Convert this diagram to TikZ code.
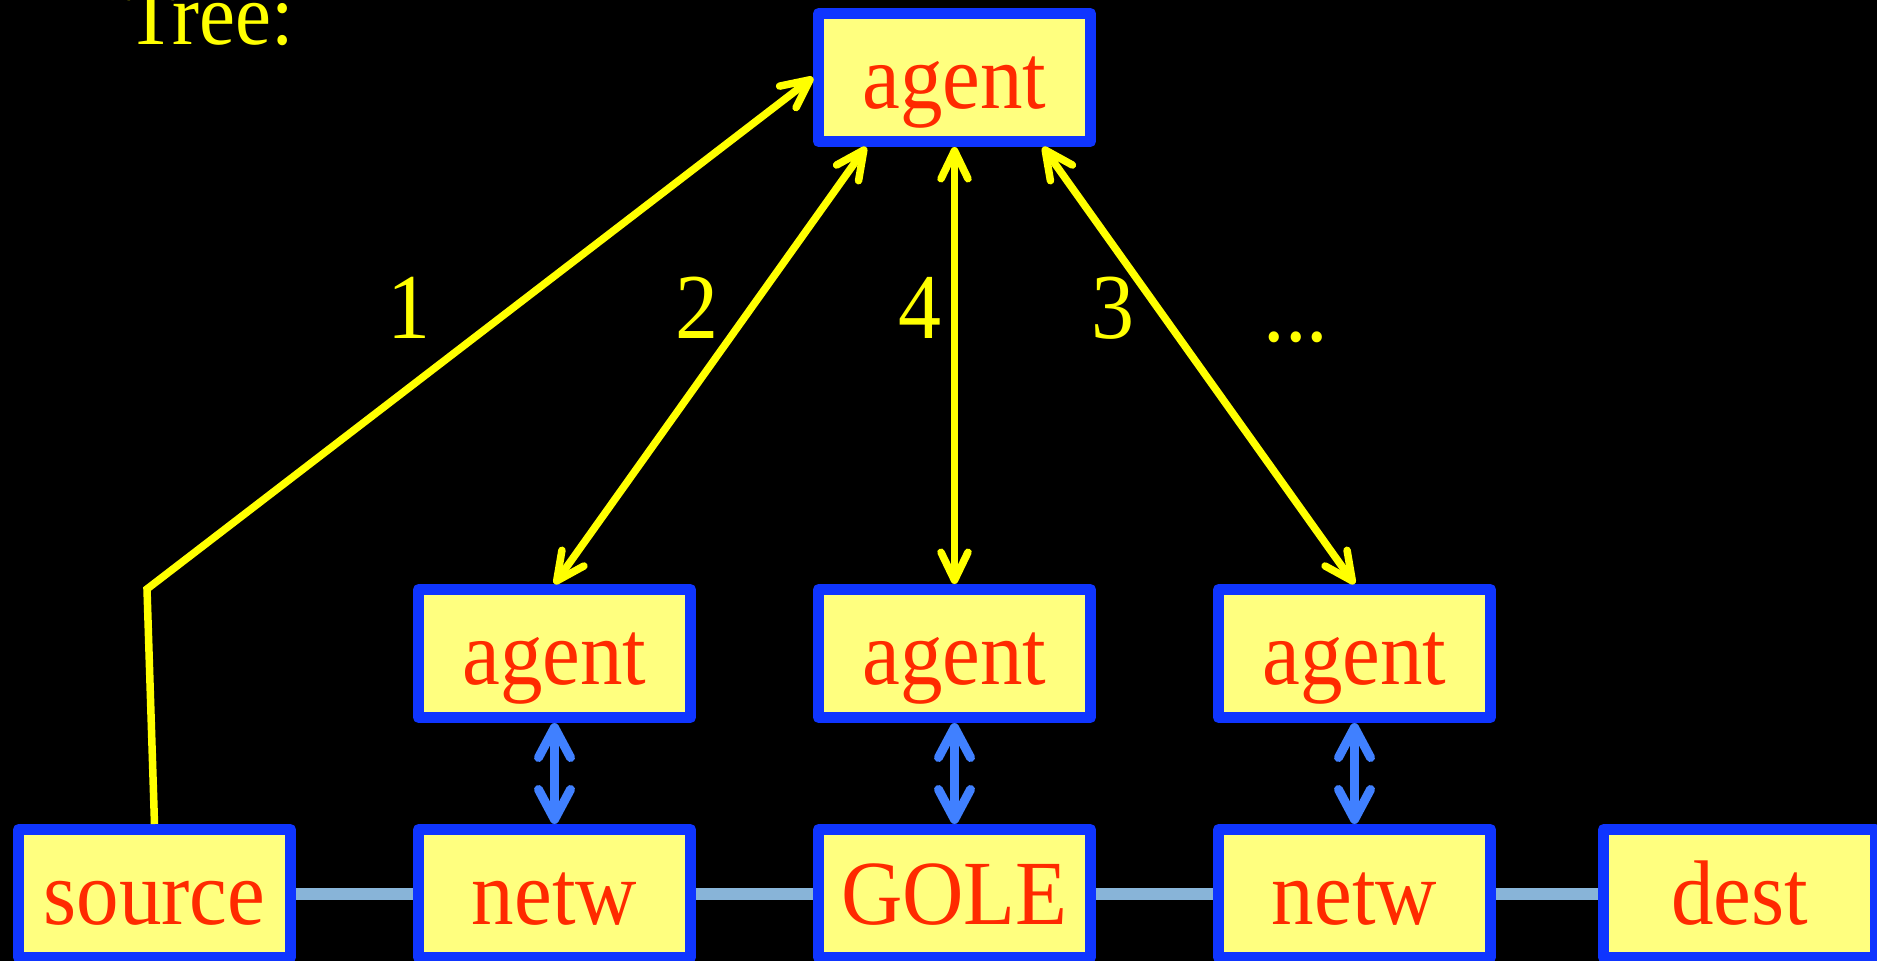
\documentclass[tikz,border=0pt]{standalone}
\usepackage{fontspec}
\setmainfont{Liberation Serif}
\usetikzlibrary{arrows.meta}
\definecolor{boxblue}{HTML}{0F35FF}
\definecolor{boxfill}{HTML}{FFFF7F}
\definecolor{boxtext}{HTML}{FF2A00}
\definecolor{tyellow}{HTML}{FFFF00}
\definecolor{tblue}{HTML}{4080FF}
\definecolor{linkblue}{HTML}{88B4D8}
\tikzset{
  ytip/.tip={Straight Barb[length=28pt,width=27pt,round]},
  btip/.tip={Straight Barb[length=30pt,width=32pt,round]},
  box/.style={draw=boxblue, fill=boxfill, line width=11pt, line join=round,
    minimum width=272pt, minimum height=128pt, inner sep=0pt,
    text=boxtext, text height=62pt, text depth=0pt,
    font=\fontsize{85}{90}\selectfont},
  yline/.style={draw=tyellow, line width=7.5pt},
  yarrow/.style={yline, arrows={ytip-ytip}},
  barrow/.style={draw=tblue, line width=9pt, arrows={btip-btip}},
  link/.style={draw=linkblue, line width=12pt},
  lbl/.style={text=tyellow, anchor=base, inner sep=0pt, font=\fontsize{86}{90}\selectfont},
}
\newcommand{\bt}[1]{\scalebox{1}[1.08]{#1}}
\begin{document}
\begin{tikzpicture}[x=1pt,y=-1pt]
\fill[black] (0,0) rectangle (1877,961);
\useasboundingbox (0,0) rectangle (1877,961);
% boxes
\node[box] (top) at (954.5,77.5) {\bt{agent}};
\node[box] (a1) at (554.5,653.5) {\bt{agent}};
\node[box] (a2) at (954.5,653.5) {\bt{agent}};
\node[box] (a3) at (1354.5,653.5) {\bt{agent}};
\node[box] (src) at (154.5,893.5) {\bt{source}};
\node[box] (n1) at (554.5,893.5) {\bt{netw}};
\node[box] (gole) at (954.5,893.5) {\bt{GOLE}};
\node[box] (n2) at (1354.5,893.5) {\bt{netw}};
\node[box] (dest) at (1739.5,893.5) {\bt{dest}};
% links
\draw[link] (src.east) -- (n1.west);
\draw[link] (n1.east) -- (gole.west);
\draw[link] (gole.east) -- (n2.west);
\draw[link] (n2.east) -- (dest.west);
% blue arrows
\draw[barrow] (a1.south) -- (n1.north);
\draw[barrow] (a2.south) -- (gole.north);
\draw[barrow] (a3.south) -- (n2.north);
% yellow arrows
\coordinate (bend) at (147,589);
\draw[yline, arrows={-ytip}, line join=miter] (src.north) -- (bend) -- (top.west);
\draw[yarrow] (a1.north) -- ([xshift=-88.5pt]top.south);
\draw[yarrow] (a2.north) -- (top.south);
\draw[yarrow] (a3.north) -- ([xshift=88.5pt]top.south);
% labels
\node[lbl] (l1) at (409,338) {\bt{1}};
\node[lbl] (l2) at (697,338) {\bt{2}};
\node[lbl] (l4) at (920,338) {\bt{4}};
\node[lbl] (l3) at (1113,338) {\bt{3}};
\node[lbl] (ldots) at (1296,341) {\bt{...}};
\node[text=tyellow, anchor=base west, inner sep=0pt, font=\fontsize{81}{85}\selectfont] (tree) at (126,44) {\bt{Tree:}};
\end{tikzpicture}
\end{document}
